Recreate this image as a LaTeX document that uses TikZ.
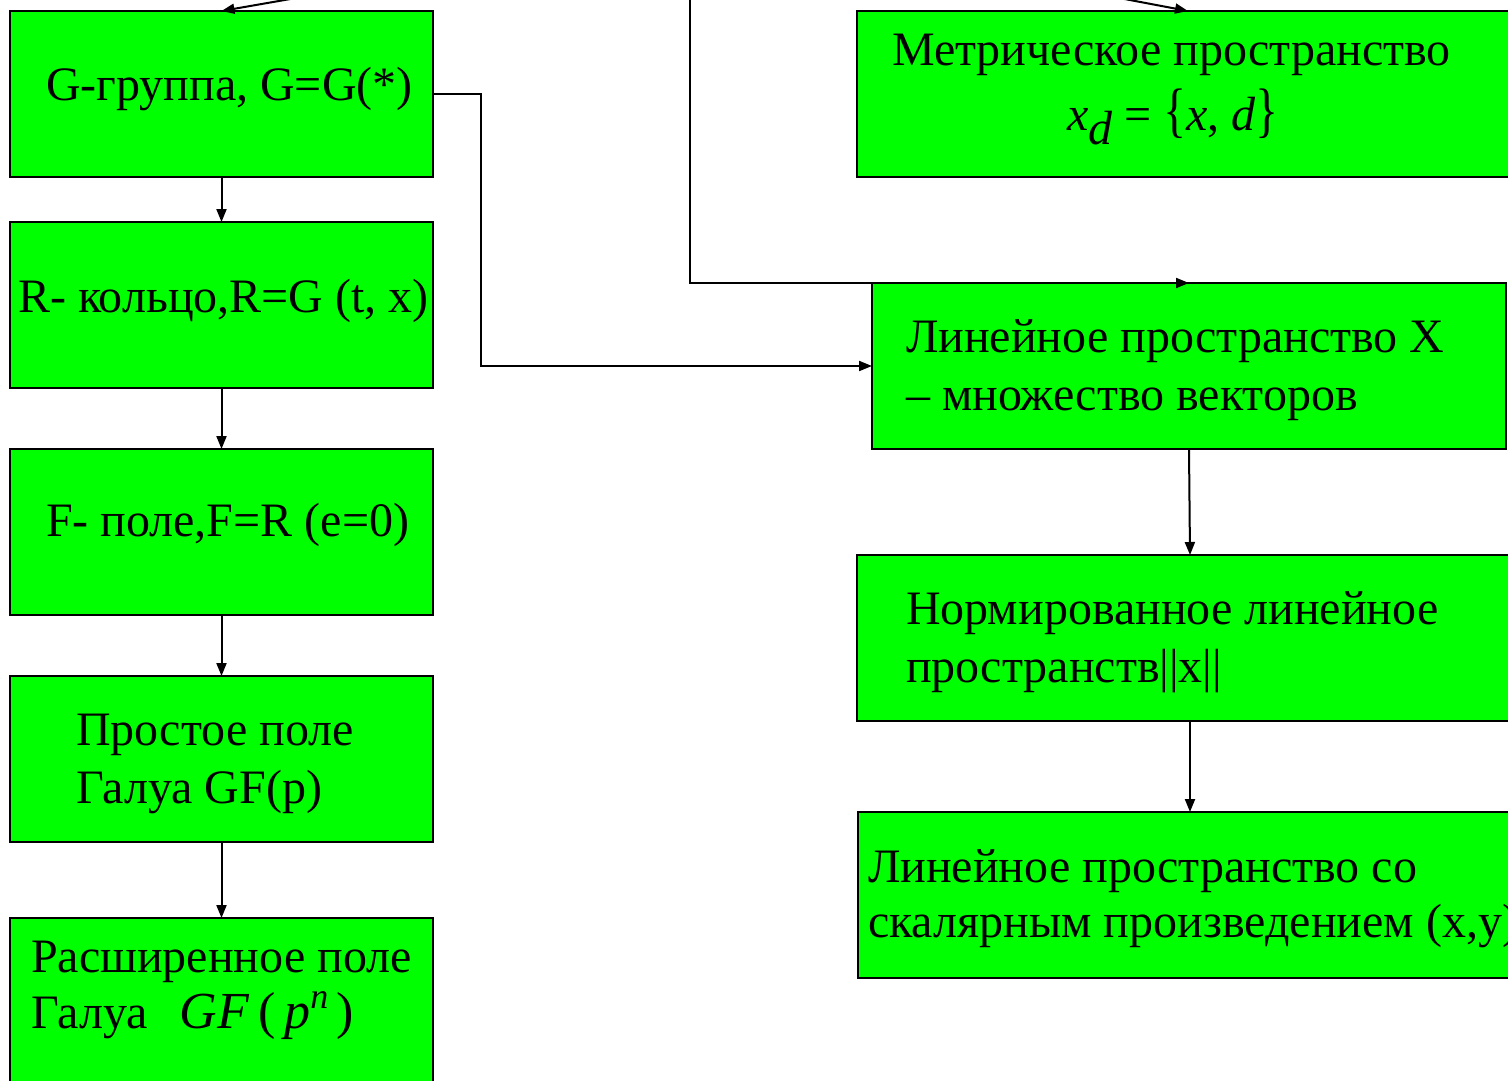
\documentclass[tikz,border=0pt]{standalone}
\usepackage{fontspec}
\setmainfont{Liberation Serif}
\usetikzlibrary{arrows.meta}

\tikzset{
  blok/.style={draw=black,fill=green,line width=2pt,minimum width=423pt,minimum height=166pt,inner sep=0pt,outer sep=0pt},
  txt/.style={inner sep=0pt,align=left,font=\fontsize{48}{58}\selectfont},
}

\begin{document}
\begin{tikzpicture}[x=1pt,y=-1pt,line width=2pt,>={Triangle[length=13pt,width=10pt]}]
\useasboundingbox (0,0) rectangle (1508,1080);
% left column
\node[blok] (grp) at (221.5,94) {};
\node[blok] (ring) at (221.5,305) {};
\node[blok] (fld) at (221.5,532) {};
\node[blok] (gfp) at (221.5,759) {};
\node[blok] (gfpn) at (221.5,1001) {};
% right column
\node[blok,minimum width=662pt] (metr) at (1188,94) {};
\node[blok,minimum width=634pt] (lin) at (1189,366) {};
\node[blok,minimum width=666pt] (norm) at (1190,638) {};
\node[blok,minimum width=664pt] (scal) at (1190,895) {};
% texts (base = last line)
\node[txt,anchor=base west] (grpt) at (45,100) {G-группа, G=G(*)};
\node[txt,anchor=base west] (ringt) at (17,312) {R- кольцо,R=G (t, x)};
\node[txt,anchor=base west] (fldt) at (45,536) {F- поле,F=R (e=0)};
\node[txt,anchor=base west] (gfpt) at (75,803) {Простое поле\\Галуа GF(p)};
\node[txt,anchor=base west,font=\fontsize{48}{56}\selectfont] (gfpnt) at (30,1028) {Расширенное поле\\Галуа\hspace{32pt}{\fontsize{52}{56}\selectfont\textit{GF}\,(\,\textit{p}\raisebox{20pt}{\fontsize{36}{40}\selectfont\textit{n}}\,)}};
\node[txt,anchor=base west] (metrt) at (891,65) {Метрическое пространство};
\node[txt,anchor=base] (metrf) at (1173,130) {\textit{x}\raisebox{-14pt}{\textit{d}} = \scalebox{1}[1.25]{\{}\textit{x}, \textit{d}\scalebox{1}[1.25]{\}}};
\node[txt,anchor=base west] (lint) at (905,410) {Линейное пространство X\\– множество векторов};
\node[txt,anchor=base west] (normt) at (905,682) {Нормированное линейное\\пространств||x||};
\node[txt,anchor=base west,font=\fontsize{48}{55}\selectfont] (scalt) at (867,937) {Линейное пространство со\\скалярным произведением (x,y)};
% connectors
\coordinate (inA) at (342,-10);
\coordinate (inB) at (1077,-10);
\coordinate (inC) at (690,-10);
\draw[->] (inA) -- (grp.north);
\draw[->] (inB) -- (metr.north);
\draw[->] (inC) |- (lin.north);
\draw[->] (grp) -- (ring);
\draw[->] (ring) -- (fld);
\draw[->] (fld) -- (gfp);
\draw[->] (gfp) -- (gfpn);
\draw[->] (grp.east) -- ++(48,0) |- (lin.west);
\draw[->] (lin.south) -- (norm.north);
\draw[->] (norm.south) -- (scal.north);
\end{tikzpicture}
\end{document}
